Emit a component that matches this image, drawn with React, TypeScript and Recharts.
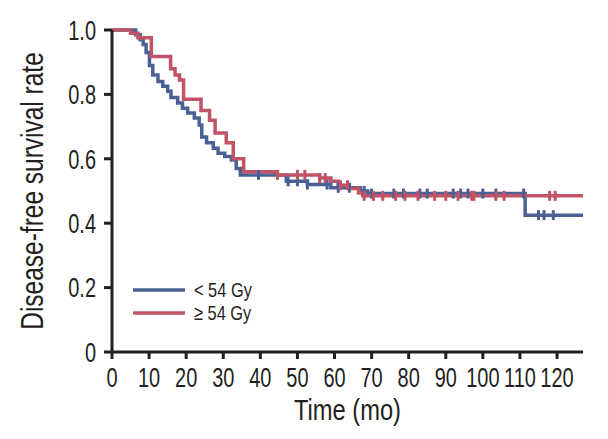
import { ComposedChart, Line, Scatter, XAxis, YAxis, Legend } from "recharts";

// step points of the Kaplan-Meier curves (time in months, survival rate)
const lowTimes = [0, 6.4, 7.6, 8.4, 9.2, 10.1, 11.0, 12.4, 13.7, 15.0, 15.9, 17.7, 19.0, 20.4, 22.2, 23.5, 24.2, 25.5, 27.3, 28.6, 30.4, 32.2, 33.5, 34.6, 47.0, 52.7, 59.0, 67.0, 69.0, 111.4, 127];
const lowSurv = [1.0, 0.985, 0.97, 0.955, 0.93, 0.89, 0.86, 0.84, 0.825, 0.81, 0.79, 0.773, 0.757, 0.742, 0.727, 0.705, 0.668, 0.65, 0.633, 0.617, 0.607, 0.596, 0.57, 0.55, 0.53, 0.52, 0.51, 0.5, 0.492, 0.425, 0.425];
const highTimes = [0, 5.0, 7.0, 10.6, 15.8, 17.0, 18.2, 19.3, 24.0, 26.3, 27.8, 30.8, 32.7, 35.5, 44.6, 56.0, 59.0, 61.0, 64.0, 66.5, 67.6, 127];
const highSurv = [1.0, 0.99, 0.976, 0.918, 0.88, 0.86, 0.845, 0.785, 0.75, 0.72, 0.68, 0.65, 0.6, 0.56, 0.55, 0.54, 0.53, 0.518, 0.508, 0.494, 0.485, 0.485];

// censored observations
const lowCensor = [39.5, 47.5, 50, 52.7, 58, 61, 64, 68, 70, 76, 78.6, 83, 85, 92, 94, 96, 100, 103.5, 111, 115, 116.5, 119];
const highCensor = [44.6, 50, 52, 56, 57.5, 61.6, 63.5, 68, 70.5, 73, 76.5, 79, 82.5, 87, 90, 93.3, 97, 97.6, 103.5, 105.7, 118, 119.5];

const xTicks = [0, 10, 20, 30, 40, 50, 60, 70, 80, 90, 100, 110, 120];
const yTicks = [0, 0.2, 0.4, 0.6, 0.8, 1.0];
const groups = ["< 54 Gy", "\u2265 54 Gy"];

const BLUE = "#4b6196";
const RED = "#c05466";
const INK = "#231f20";
const FONT = "'Liberation Sans', Arial, sans-serif";
const TICK_SQUEEZE = 0.74; // imitate the condensed face of the original
const TITLE_SQUEEZE = 0.79;

const toPoints = (times: number[], surv: number[]) => times.map((t, i) => ({ t, s: surv[i] }));

const survAt = (times: number[], surv: number[], t: number) => {
  let s = surv[0];
  times.forEach((tt, i) => {
    if (tt <= t) s = surv[i];
  });
  return s;
};

const lowLine = toPoints(lowTimes, lowSurv);
const highLine = toPoints(highTimes, highSurv);
const lowMarks = lowCensor.map((t) => ({ t, s: survAt(lowTimes, lowSurv, t) }));
const highMarks = highCensor.map((t) => ({ t, s: survAt(highTimes, highSurv, t) }));

function CensorMark(props: any) {
  const { cx, cy, fill } = props;
  if (cx == null || cy == null) return null;
  return <rect x={cx - 1.5} y={cy - 5} width={3} height={10} fill={fill} />;
}

function XTick({ x, y, payload }: any) {
  return (
    <text
      transform={`translate(${x},${y}) scale(${TICK_SQUEEZE},1)`}
      textAnchor="middle"
      dy="0.72em"
      fill={INK}
      fontSize={27}
      fontFamily={FONT}
    >
      {payload.value}
    </text>
  );
}

function YTick({ x, y, payload }: any) {
  const v = payload.value as number;
  return (
    <text
      transform={`translate(${x},${y}) scale(${TICK_SQUEEZE},1)`}
      textAnchor="end"
      dy="0.36em"
      fill={INK}
      fontSize={27}
      fontFamily={FONT}
    >
      {v === 0 ? "0" : v.toFixed(1)}
    </text>
  );
}

function XTitle({ viewBox }: any) {
  const cx = viewBox.x + viewBox.width / 2;
  return (
    <text
      transform={`translate(${cx},420) scale(${TITLE_SQUEEZE},1)`}
      textAnchor="middle"
      fill={INK}
      fontSize={30}
      fontFamily={FONT}
    >
      Time (mo)
    </text>
  );
}

function YTitle({ viewBox }: any) {
  const cy = viewBox.y + viewBox.height / 2;
  return (
    <text
      transform={`translate(43,${cy}) rotate(-90) scale(${TITLE_SQUEEZE},1)`}
      textAnchor="middle"
      fill={INK}
      fontSize={31}
      fontFamily={FONT}
    >
      Disease-free survival rate
    </text>
  );
}

function LegendBox() {
  const colors = [BLUE, RED];
  return (
    <div style={{ fontFamily: FONT, fontSize: 21, color: INK }}>
      {groups.map((g, i) => (
        <div key={g} style={{ display: "flex", alignItems: "center", height: 22.5 }}>
          <svg width={52} height={6}>
            <line x1={0} y1={3} x2={52} y2={3} stroke={colors[i]} strokeWidth={3.5} />
          </svg>
          <span
            style={{
              marginLeft: 9,
              lineHeight: "22px",
              display: "inline-block",
              whiteSpace: "nowrap",
              transform: `scaleX(0.78)`,
              transformOrigin: "left center",
            }}
          >
            {g}
          </span>
        </div>
      ))}
    </div>
  );
}

export default function App() {
  return (
    <div>
      <style>{"body{margin:0;background:#fff}"}</style>
      <ComposedChart width={608} height={439} margin={{ top: 30, right: 25, bottom: 0, left: 0 }}>
        <XAxis
          dataKey="t"
          type="number"
          domain={[0, 127]}
          ticks={xTicks}
          interval={0}
          height={87}
          tickSize={7}
          tickMargin={9}
          axisLine={{ stroke: INK, strokeWidth: 3 }}
          tickLine={{ stroke: INK, strokeWidth: 3 }}
          tick={<XTick />}
          allowDataOverflow
          label={{ content: XTitle }}
        />
        <YAxis
          type="number"
          domain={[0, 1]}
          ticks={yTicks}
          interval={0}
          width={112}
          tickSize={8}
          tickMargin={8}
          axisLine={{ stroke: INK, strokeWidth: 3 }}
          tickLine={{ stroke: INK, strokeWidth: 3 }}
          tick={<YTick />}
          label={{ content: YTitle }}
        />
        <Line
          data={lowLine}
          dataKey="s"
          type="stepAfter"
          stroke={BLUE}
          strokeWidth={3.5}
          dot={false}
          isAnimationActive={false}
        />
        <Line
          data={highLine}
          dataKey="s"
          type="stepAfter"
          stroke={RED}
          strokeWidth={3.5}
          dot={false}
          isAnimationActive={false}
        />
        <Scatter data={lowMarks} dataKey="s" fill={BLUE} shape={CensorMark} isAnimationActive={false} />
        <Scatter data={highMarks} dataKey="s" fill={RED} shape={CensorMark} isAnimationActive={false} />
        <Legend
          layout="vertical"
          align="center"
          verticalAlign="middle"
          content={() => <LegendBox />}
          wrapperStyle={{ left: 133, top: 279, width: "auto" }}
        />
      </ComposedChart>
    </div>
  );
}
